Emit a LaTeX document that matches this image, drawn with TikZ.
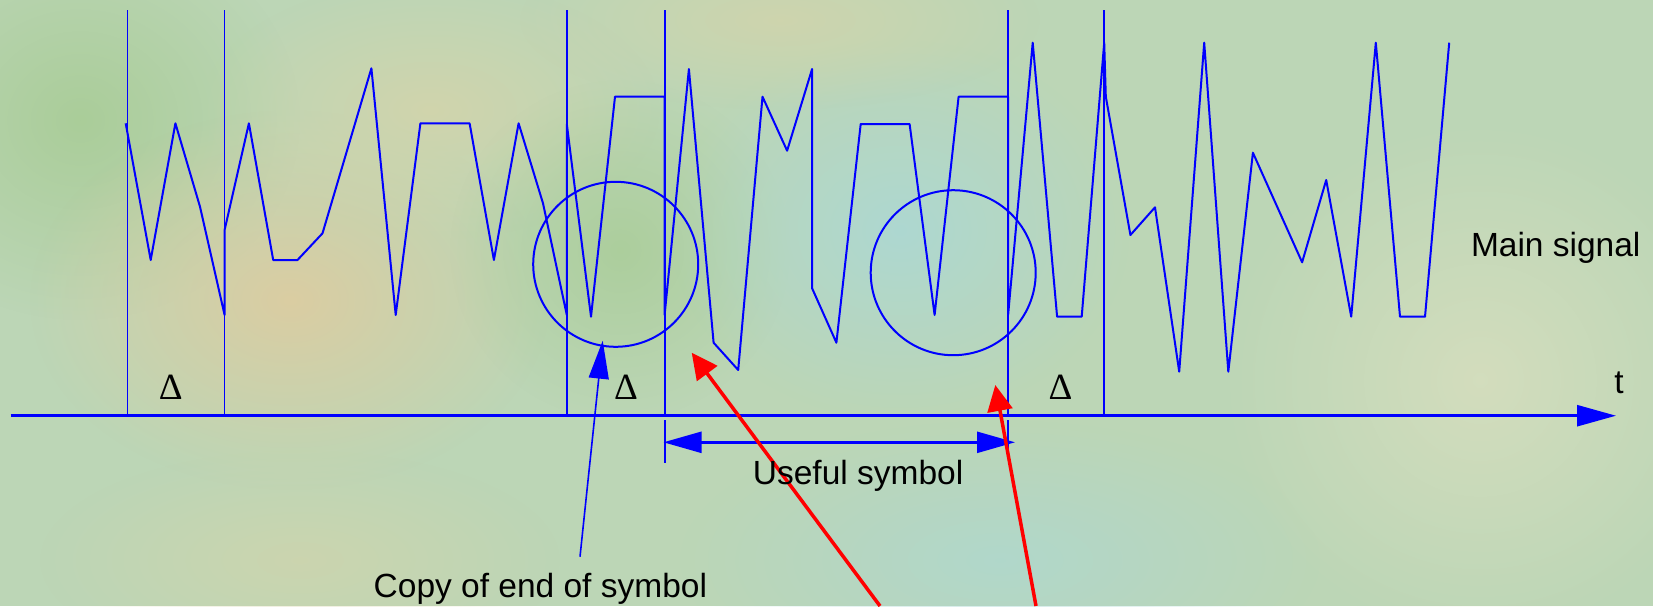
\documentclass[tikz,border=0pt]{standalone}
\usepackage{fontspec}
\setmainfont{Liberation Sans}
\newfontfamily\serifdelta{Liberation Serif}
\usetikzlibrary{arrows.meta,fadings}
\definecolor{bgbase}{RGB}{188,214,182}
\definecolor{bgbeige}{RGB}{222,204,160}
\definecolor{bgsand}{RGB}{214,212,170}
\definecolor{bgcyan}{RGB}{172,216,212}
\definecolor{bggreen}{RGB}{168,204,150}
\definecolor{bglight}{RGB}{214,222,190}
\tikzfading[name=blobfade, inner color=transparent!0, outer color=transparent!100]
\begin{document}
\begin{tikzpicture}[x=1pt,y=-1pt,
  sig/.style={draw=blue, line width=2pt, line join=round},
  vline/.style={draw=blue, line width=1.6pt},
  axisline/.style={draw=blue, line width=2.6pt, -{Triangle[length=39pt,width=21pt]}},
  span/.style={draw=blue, line width=2.4pt, {Triangle[length=38pt,width=21pt]}-{Triangle[length=38pt,width=21pt]}},
  ring/.style={circle, draw=blue, line width=2pt, minimum size=165pt, inner sep=0pt},
  copyarrow/.style={draw=blue, line width=1.6pt, -{Triangle[length=38pt,width=20pt]}},
  redarrow/.style={draw=red, line width=3.5pt, -{Triangle[length=26pt,width=25pt]}},
  lbl/.style={inner sep=0pt, font=\fontsize{33.5}{40}\selectfont, text=black},
  dlt/.style={inner sep=0pt, font=\serifdelta\fontsize{37}{44}\selectfont, text=black, anchor=base},
]
\useasboundingbox (0,0) rectangle (1653,606);
% background
\fill[bgbase] (0,0) rectangle (1653,606);
\fill[bggreen, path fading=blobfade, opacity=0.9] (80,120) ellipse (220 and 200);
\fill[bgbeige, path fading=blobfade, opacity=0.9] (290,300) ellipse (260 and 190);
\fill[bgsand, path fading=blobfade, opacity=0.8] (430,110) ellipse (230 and 130);
\fill[bggreen, path fading=blobfade, opacity=0.8] (620,250) ellipse (170 and 170);
\fill[bgcyan, path fading=blobfade, opacity=0.9] (900,230) ellipse (230 and 190);
\fill[bgsand, path fading=blobfade, opacity=0.7] (780,20) ellipse (260 and 90);
\fill[bgcyan, path fading=blobfade, opacity=0.7] (1000,560) ellipse (320 and 140);
\fill[bglight, path fading=blobfade, opacity=0.9] (1480,380) ellipse (260 and 260);
\fill[bgsand, path fading=blobfade, opacity=0.6] (300,560) ellipse (260 and 110);
% signal
\draw[sig] (125.7,123.3) -- (150.7,260) -- (175.4,123.3) -- (200,206.7) -- (224.6,315)
  -- (224.6,230) -- (248.9,123.3) -- (273.2,260) -- (297.5,260) -- (322.5,233.3)
  -- (371.4,68.3) -- (395.7,315) -- (420.4,123.3) -- (469.6,123.3) -- (493.9,260)
  -- (518.6,123.3) -- (543,203.3) -- (566.8,315) -- (566.8,124) -- (591,316.7)
  -- (615,96.7) -- (664.6,96.7) -- (664.6,315) -- (688.9,69) -- (713.6,342.7)
  -- (738.2,370) -- (762.5,96.7) -- (787.1,150.7) -- (812.1,69) -- (812.1,288.3)
  -- (836.4,342.7) -- (860.7,124) -- (909.6,124) -- (934.6,315) -- (958.6,96.7)
  -- (1008.1,96.7) -- (1008.1,315) -- (1032.7,42.7) -- (1057.1,316.7) -- (1081.7,316.7)
  -- (1104.2,42.7) -- (1105.8,96.7) -- (1130.4,235) -- (1155,207.3) -- (1179.2,371.7)
  -- (1204.2,42.7) -- (1228.3,371.7) -- (1252.9,152.7) -- (1302.1,262.3) -- (1326.2,180)
  -- (1351.2,316.7) -- (1375.8,42.7) -- (1400,316.7) -- (1425,316.7) -- (1449.2,42.7);
% circles
\node[ring] (c1) at (615.7,264.3) {};
\node[ring] (c2) at (953.2,272.7) {};
% vertical guard lines
\foreach \x in {127.5,224.6,566.8,664.9,1008.2,1104.2} {
  \draw[vline] (\x,10) -- (\x,416);
}
\draw[vline] (664.9,420) -- (664.9,463);
\draw[vline] (1008.2,420) -- (1008.2,449);
% axis
\coordinate (ax0) at (10.5,415.7);
\coordinate (ax1) at (1616,415.7);
\draw[axisline] (ax0) -- (ax1);
% useful symbol span
\coordinate (sp0) at (663.5,442.3);
\coordinate (sp1) at (1015,442.3);
\draw[span] (sp0) -- (sp1);
% copy arrow
\coordinate (cp0) at (580,556.7);
\coordinate (cp1) at (602.7,340.7);
\draw[copyarrow] (cp0) -- (cp1);
% red arrows
\coordinate (r1s) at (880,606);
\coordinate (r1e) at (691.7,352.7);
\coordinate (r2s) at (1036,606);
\coordinate (r2e) at (995.3,385);
\draw[redarrow] (r1s) -- (r1e);
\draw[redarrow] (r2s) -- (r2e);
% labels
\node[lbl, anchor=base west] (main) at (1470.8,256) {Main signal};
\node[lbl, anchor=base] (tlabel) at (1619,393) {t};
\node[lbl, anchor=base west] (useful) at (752.7,484) {Useful symbol};
\node[lbl, anchor=base west] (copy) at (373.5,597) {Copy of end of symbol};
\node[dlt] (d1) at (170.7,399.3) {Δ};
\node[dlt] (d2) at (626,399.3) {Δ};
\node[dlt] (d3) at (1060.6,399.3) {Δ};
\end{tikzpicture}
\end{document}
